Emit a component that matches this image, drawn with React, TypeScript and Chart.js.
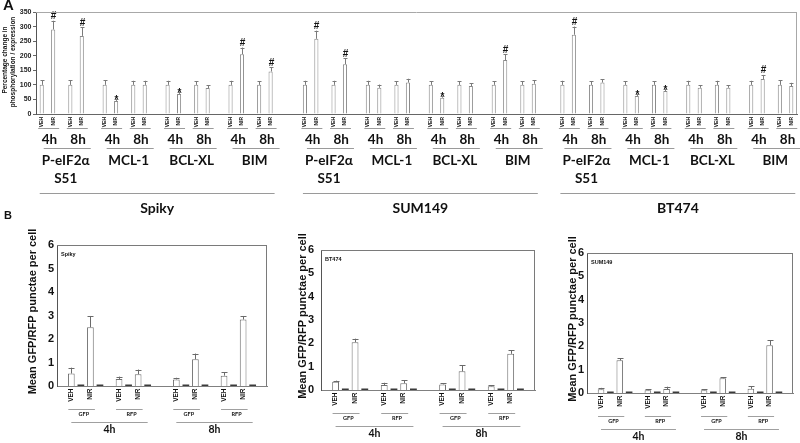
import React, { useEffect, useRef } from 'react';
import { Chart, registerables } from 'chart.js';

Chart.register(...registerables);

// ---------------- Panel A data ----------------
const cellLines = ['Spiky', 'SUM149', 'BT474'];
const proteins = [['P-eIF2α', 'S51'], ['MCL-1'], ['BCL-XL'], ['BIM']];
const timePoints = ['4h', '8h'];
const treatments = ['VEH', 'NIR'];
const aTicks = [0, 50, 100, 150, 200, 250, 300, 350];

// order inside each cell line: protein -> time -> [VEH, NIR]
const spikyA = [100, 290, 100, 268, 100, 45, 100, 100, 100, 69, 100, 89, 100, 205, 100, 146];
const spikyAErr = [15, 30, 15, 30, 16, 6, 14, 14, 14, 8, 13, 10, 14, 23, 13, 15];
const spikyAMarks = ['', '#', '', '#', '', '*', '', '', '', '*', '', '', '', '#', '', '#'];
const sum149A = [100, 258, 100, 171, 100, 90, 100, 108, 100, 56, 100, 96, 100, 185, 100, 104];
const sum149AErr = [14, 28, 14, 20, 14, 11, 13, 13, 13, 6, 13, 10, 13, 20, 13, 12];
const sum149AMarks = ['', '#', '', '#', '', '', '', '', '', '*', '', '', '', '#', '', ''];
const bt474A = [100, 272, 100, 108, 100, 62, 100, 79, 100, 90, 100, 90, 100, 120, 100, 96];
const bt474AErr = [14, 28, 13, 12, 13, 7, 13, 7, 14, 9, 14, 8, 14, 14, 16, 11];
const bt474AMarks = ['', '#', '', '', '', '*', '', '*', '', '', '', '', '', '#', '', ''];

// ---------------- Panel B data ----------------
const bPanels = ['Spiky', 'BT474', 'SUM149'];
const bTimes = ['4h', '8h'];
const bReporters = ['GFP', 'RFP'];
const bTicks = [0, 1, 2, 3, 4, 5, 6];
// order: time -> reporter -> [VEH, NIR]
const spikyB = [0.53, 2.5, 0.3, 0.5, 0.28, 1.14, 0.44, 2.83];
const spikyBErr = [0.25, 0.48, 0.1, 0.2, 0.07, 0.24, 0.15, 0.15];
const bt474B = [0.35, 2.05, 0.21, 0.29, 0.24, 0.8, 0.16, 1.55];
const bt474BErr = [0.05, 0.15, 0.1, 0.12, 0.05, 0.27, 0.04, 0.15];
const sum149B = [0.16, 1.4, 0.12, 0.17, 0.12, 0.63, 0.18, 2.05];
const sum149BErr = [0.06, 0.1, 0.05, 0.1, 0.04, 0.04, 0.1, 0.22];
// empty companion series plotted beside each bar (all zero)
const companionB = [0, 0, 0, 0, 0, 0, 0, 0];

const aSeries = [spikyA, sum149A, bt474A];
const aErrs = [spikyAErr, sum149AErr, bt474AErr];
const aMarks = [spikyAMarks, sum149AMarks, bt474AMarks];
const bSeries = [spikyB, bt474B, sum149B];
const bErrs = [spikyBErr, bt474BErr, sum149BErr];

const SANS = '"Liberation Sans", Arial, sans-serif';
const CAL = 'Lato, "Open Sans", sans-serif';

// ---------------- layout helpers ----------------
const A_CELL_START = [0, 46, 91];
const A_SLOTS = 134;
const aIndex = (c: number, p: number, t: number, k: number) => 1 + A_CELL_START[c] + 11 * p + 5 * t + 2 * k;
const B_SLOTS = 22;
const bIndex = (g: number, r: number, k: number) => 1 + 11 * g + 5 * r + 2 * k;

function hLine(ctx: any, x1: number, x2: number, y: number, color: string) {
  ctx.save();
  ctx.strokeStyle = color;
  ctx.lineWidth = 1;
  ctx.beginPath();
  ctx.moveTo(x1, Math.round(y) + 0.5);
  ctx.lineTo(x2, Math.round(y) + 0.5);
  ctx.stroke();
  ctx.restore();
}
function vText(ctx: any, text: string, x: number, yTop: number, font: string) {
  ctx.save();
  ctx.translate(x, yTop);
  ctx.rotate(-Math.PI / 2);
  ctx.font = font;
  ctx.fillStyle = '#111';
  ctx.textAlign = 'right';
  ctx.textBaseline = 'middle';
  ctx.fillText(text, 0, 0);
  ctx.restore();
}
function cText(ctx: any, text: string, x: number, y: number, font: string, align = 'center') {
  ctx.save();
  ctx.font = font;
  ctx.fillStyle = '#111';
  ctx.textAlign = align;
  ctx.textBaseline = 'middle';
  ctx.fillText(text, x, y);
  ctx.restore();
}
function rotTitle(ctx: any, text: string, x: number, y: number, font: string) {
  ctx.save();
  ctx.translate(x, y);
  ctx.rotate(-Math.PI / 2);
  ctx.font = font;
  ctx.fillStyle = '#111';
  ctx.textAlign = 'center';
  ctx.textBaseline = 'middle';
  ctx.fillText(text, 0, 0);
  ctx.restore();
}

// ---------------- Panel A config ----------------
function buildA() {
  const labels: string[] = new Array(A_SLOTS).fill('');
  const values: (number | null)[] = new Array(A_SLOTS).fill(null);
  aSeries.forEach((vals, c) =>
    vals.forEach((v, j) => {
      const p = Math.floor(j / 4), t = Math.floor(j / 2) % 2, k = j % 2;
      const idx = aIndex(c, p, t, k);
      labels[idx] = `${cellLines[c]} ${proteins[p].join(' ')} ${timePoints[t]} ${treatments[k]}`;
      values[idx] = v;
    })
  );

  const plugin = {
    id: 'panelA',
    afterDatasetsDraw(chart: any) {
      const ctx = chart.ctx;
      const xs = chart.scales.x, ys = chart.scales.y;
      ctx.save();
      ctx.strokeStyle = '#7a7a7a';
      ctx.lineWidth = 1;
      aSeries.forEach((vals, c) =>
        vals.forEach((v, j) => {
          const p = Math.floor(j / 4), t = Math.floor(j / 2) % 2, k = j % 2;
          const px = Math.round(xs.getPixelForValue(aIndex(c, p, t, k))) + 0.5;
          const base = ys.getPixelForValue(v);
          const top = ys.getPixelForValue(v + aErrs[c][j]);
          ctx.beginPath();
          ctx.moveTo(px, base);
          ctx.lineTo(px, top);
          ctx.moveTo(px - 2, Math.round(top) + 0.5);
          ctx.lineTo(px + 2, Math.round(top) + 0.5);
          ctx.stroke();
          const m = aMarks[c][j];
          if (m) {
            ctx.save();
            ctx.font = `bold 10px ${SANS}`;
            ctx.fillStyle = '#111';
            ctx.textAlign = 'center';
            ctx.textBaseline = 'alphabetic';
            ctx.fillText(m, px, m === '#' ? top - 1.5 : top + 4);
            ctx.restore();
          }
        })
      );
      ctx.restore();
    },
    afterDraw(chart: any) {
      const ctx = chart.ctx;
      const { left, right, top, bottom } = chart.chartArea;
      const xs = chart.scales.x;
      // frame top / right
      hLine(ctx, left, right, top, '#a8a8a8');
      ctx.save();
      ctx.strokeStyle = '#a8a8a8';
      ctx.beginPath();
      ctx.moveTo(Math.round(right) - 0.5, top);
      ctx.lineTo(Math.round(right) - 0.5, bottom);
      ctx.stroke();
      ctx.restore();
      // panel letters
      cText(ctx, 'A', 3, 6, `bold 15px ${SANS}`, 'left');
      cText(ctx, 'B', 4, 216, `bold 11px ${SANS}`, 'left');
      // y title
      rotTitle(ctx, 'Percentage change in', 5.5, 60, `bold 6.5px ${SANS}`);
      rotTitle(ctx, 'phosphorylation / expression', 13, 62, `bold 6.5px ${SANS}`);

      cellLines.forEach((cell, c) => {
        const first = xs.getPixelForValue(aIndex(c, 0, 0, 0));
        const last = xs.getPixelForValue(aIndex(c, 3, 1, 1));
        proteins.forEach((prot, p) => {
          timePoints.forEach((tp, t) => {
            const xv = xs.getPixelForValue(aIndex(c, p, t, 0));
            const xn = xs.getPixelForValue(aIndex(c, p, t, 1));
            treatments.forEach((tr, k) => {
              vText(ctx, tr, k === 0 ? xv : xn, bottom + 3, `bold 5px ${SANS}`);
            });
            hLine(ctx, xv - 3.5, xn + 6, bottom + 14, '#9a9a9a');
            cText(ctx, tp, (xv + xn) / 2 + 2, bottom + 26, `bold 13.5px ${CAL}`);
          });
          const g0 = xs.getPixelForValue(aIndex(c, p, 0, 0));
          const g1 = xs.getPixelForValue(aIndex(c, p, 1, 1));
          hLine(ctx, g0 + 2, g1 + 9, bottom + 34, '#9a9a9a');
          prot.forEach((line, li) => {
            cText(ctx, line, (g0 + g1) / 2 + 4, bottom + 47 + li * 17.5, `bold 13.5px ${CAL}`);
          });
        });
        hLine(ctx, first - 2, last + 4, bottom + 79, '#9a9a9a');
        cText(ctx, cell, (first + last) / 2 + 1, bottom + 94.5, `bold 14px ${CAL}`);
      });
    },
  };

  return {
    type: 'bar',
    data: {
      labels,
      datasets: [
        {
          label: 'Percentage change',
          data: values,
          backgroundColor: '#ffffff',
          borderColor: '#8a8a8a',
          borderWidth: 1,
          categoryPercentage: 0.8,
          barPercentage: 0.9,
        },
      ],
    },
    options: {
      animation: false,
      responsive: false,
      maintainAspectRatio: false,
      layout: { padding: { left: 0, top: 12, right: 3, bottom: 108 } },
      plugins: { legend: { display: false }, tooltip: { enabled: false } },
      scales: {
        x: {
          offset: false,
          grid: { display: false },
          ticks: { display: false },
          border: { display: true, color: '#666', width: 1 },
          afterFit: (s: any) => {
            s.height = 0;
          },
        },
        y: {
          min: aTicks[0],
          max: aTicks[aTicks.length - 1],
          ticks: {
            stepSize: aTicks[1] - aTicks[0],
            font: { family: SANS, size: 7, weight: 'bold' },
            color: '#222',
            padding: 1.5,
          },
          grid: { display: true, drawOnChartArea: false, drawTicks: true, tickLength: 3, color: '#666' },
          border: { display: true, color: '#555', width: 1 },
          afterFit: (s: any) => {
            s.width = 36;
          },
        },
      },
    },
    plugins: [plugin],
  };
}

// ---------------- Panel B config ----------------
const B_TOP = 224;
const B_HEIGHT = 219;
const bLayouts = [
  { canvasLeft: 0, canvasWidth: 275, left: 57, right: 267, top: 245, bottom: 386, tickPad: 3, titleX: 33 },
  { canvasLeft: 275, canvasWidth: 270, left: 321, right: 535, top: 250, bottom: 390, tickPad: 7, titleX: 303 },
  { canvasLeft: 545, canvasWidth: 255, left: 587, right: 793, top: 253, bottom: 393, tickPad: 3, titleX: 573 },
];

function buildB(i: number) {
  const L = bLayouts[i];
  const labels: string[] = new Array(B_SLOTS).fill('');
  const means: (number | null)[] = new Array(B_SLOTS).fill(null);
  const companion: (number | null)[] = new Array(B_SLOTS).fill(null);
  bSeries[i].forEach((v, j) => {
    const g = Math.floor(j / 4), r = Math.floor(j / 2) % 2, k = j % 2;
    const idx = bIndex(g, r, k);
    labels[idx] = `${bTimes[g]} ${bReporters[r]} ${treatments[k]}`;
    means[idx] = v;
    companion[idx + 1] = companionB[j];
  });

  const plugin = {
    id: 'panelB' + i,
    afterDatasetsDraw(chart: any) {
      const ctx = chart.ctx;
      const xs = chart.scales.x, ys = chart.scales.y;
      ctx.save();
      ctx.strokeStyle = '#6a6a6a';
      ctx.lineWidth = 1;
      bSeries[i].forEach((v, j) => {
        const g = Math.floor(j / 4), r = Math.floor(j / 2) % 2, k = j % 2;
        const px = Math.round(xs.getPixelForValue(bIndex(g, r, k))) + 0.5;
        const base = ys.getPixelForValue(v);
        const top = ys.getPixelForValue(v + bErrs[i][j]);
        ctx.beginPath();
        ctx.moveTo(px, base);
        ctx.lineTo(px, top);
        ctx.moveTo(px - 3, Math.round(top) + 0.5);
        ctx.lineTo(px + 3, Math.round(top) + 0.5);
        ctx.stroke();
      });
      ctx.restore();
    },
    afterDraw(chart: any) {
      const ctx = chart.ctx;
      const { left, right, top, bottom } = chart.chartArea;
      const xs = chart.scales.x;
      // frame top / right
      hLine(ctx, left, right, top, '#7a7a7a');
      ctx.save();
      ctx.strokeStyle = '#7a7a7a';
      ctx.beginPath();
      ctx.moveTo(Math.round(right) - 0.5, top);
      ctx.lineTo(Math.round(right) - 0.5, bottom);
      ctx.stroke();
      ctx.restore();
      // inner label
      cText(ctx, bPanels[i], left + 4, top + 9, `bold 5.5px ${SANS}`, 'left');
      // y title
      rotTitle(ctx, 'Mean GFP/RFP punctae per cell', L.titleX - L.canvasLeft, (top + bottom) / 2 - 4, `bold 11px ${SANS}`);
      bTimes.forEach((tp, g) => {
        const g0 = xs.getPixelForValue(bIndex(g, 0, 0));
        const g1 = xs.getPixelForValue(bIndex(g, 1, 1) + 1);
        bReporters.forEach((rep, r) => {
          const xv = xs.getPixelForValue(bIndex(g, r, 0));
          const xn = xs.getPixelForValue(bIndex(g, r, 1));
          treatments.forEach((tr, k) => {
            vText(ctx, tr, k === 0 ? xv : xn, bottom + 2.5, `bold 6.5px ${SANS}`);
          });
          hLine(ctx, xv - 3, xn + 4.5, bottom + 22.7, '#a0a0a0');
          cText(ctx, rep, (xv + xn) / 2 + 3, bottom + 28.5, `bold 5.5px ${CAL}`);
        });
        hLine(ctx, g0, g1, bottom + 35.7, '#a0a0a0');
        cText(ctx, tp, (g0 + g1) / 2, bottom + 44, `bold 10.5px ${CAL}`);
      });
    },
  };

  return {
    type: 'bar',
    data: {
      labels,
      datasets: [
        {
          label: 'Mean',
          data: means,
          backgroundColor: '#ffffff',
          borderColor: '#707070',
          borderWidth: 1,
          categoryPercentage: 0.8,
          barPercentage: 0.88,
          grouped: false,
        },
        {
          label: 'Companion',
          data: companion,
          backgroundColor: '#3a3a3a',
          borderColor: '#3a3a3a',
          borderWidth: 0,
          minBarLength: 1.5,
          categoryPercentage: 0.8,
          barPercentage: 0.88,
          grouped: false,
        },
      ],
    },
    options: {
      animation: false,
      responsive: false,
      maintainAspectRatio: false,
      layout: {
        padding: {
          left: 0,
          top: L.top - B_TOP,
          right: L.canvasLeft + L.canvasWidth - L.right,
          bottom: B_TOP + B_HEIGHT - L.bottom,
        },
      },
      plugins: { legend: { display: false }, tooltip: { enabled: false } },
      scales: {
        x: {
          grid: { display: false },
          ticks: { display: false },
          border: { display: true, color: '#808080', width: 1 },
          afterFit: (s: any) => {
            s.height = 0;
          },
        },
        y: {
          min: bTicks[0],
          max: bTicks[bTicks.length - 1],
          ticks: {
            stepSize: bTicks[1] - bTicks[0],
            font: { family: SANS, size: 11, weight: 'bold' },
            color: '#111',
            padding: L.tickPad,
          },
          grid: { display: false, drawTicks: false },
          border: { display: true, color: '#555', width: 1 },
          afterFit: (s: any) => {
            s.width = L.left - L.canvasLeft;
          },
        },
      },
    },
    plugins: [plugin],
  };
}

function ChartCanvas(props: { left: number; top: number; width: number; height: number; build: () => any }) {
  const ref = useRef<HTMLCanvasElement | null>(null);
  useEffect(() => {
    const chart = new Chart(ref.current as HTMLCanvasElement, props.build());
    return () => chart.destroy();
  }, []);
  return (
    <canvas
      ref={ref}
      width={props.width}
      height={props.height}
      style={{ position: 'absolute', left: props.left, top: props.top, width: props.width, height: props.height }}
    />
  );
}

export default function App() {
  useEffect(() => {
    document.body.style.margin = '0';
  }, []);
  return (
    <div style={{ position: 'relative', width: 800, height: 443, background: '#ffffff', overflow: 'hidden' }}>
      <ChartCanvas left={0} top={0} width={800} height={222} build={buildA} />
      {bLayouts.map((L, i) => (
        <ChartCanvas key={i} left={L.canvasLeft} top={B_TOP} width={L.canvasWidth} height={B_HEIGHT} build={() => buildB(i)} />
      ))}
    </div>
  );
}
